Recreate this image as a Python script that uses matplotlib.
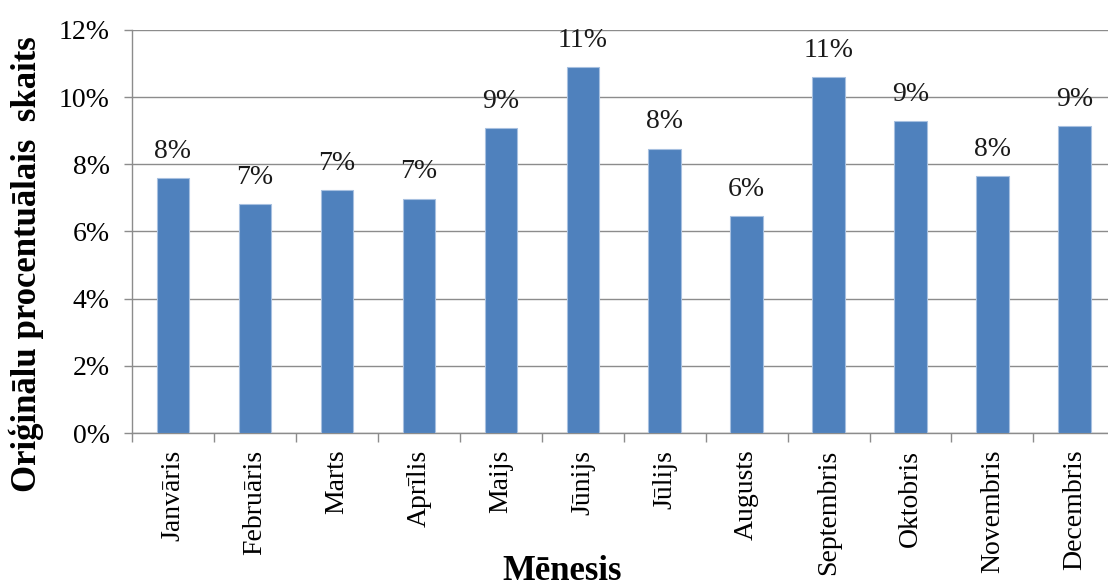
import matplotlib.pyplot as plt
import numpy as np

months = ["Janvāris", "Februāris", "Marts", "Aprīlis", "Maijs", "Jūnijs",
          "Jūlijs", "Augusts", "Septembris", "Oktobris", "Novembris", "Decembris"]
share = [7.59, 6.82, 7.24, 6.98, 9.09, 10.90, 8.47, 6.45, 10.61, 9.30, 7.65, 9.13]
yticks = [0, 2, 4, 6, 8, 10, 12]

plt.rcParams['font.family'] = ['Liberation Serif', 'DejaVu Serif']

fig = plt.figure(figsize=(11.08, 5.88), dpi=100)
ax = fig.add_axes([0.1191, 0.2636, 0.8809, 0.6854])

x = np.arange(len(months))
bars = ax.bar(x, share, width=0.395, color='#4F81BD', edgecolor='#A7C0E0',
              linewidth=0.8, zorder=3)

for xi, v in zip(x, share):
    ax.annotate(f"{v:.0f}%", (xi, v), xytext=(0, 14.5), textcoords='offset points',
                ha='center', va='baseline', fontsize=20, color='#1a1a1a')

ax.set_xlim(-0.5, 11.41)
ax.set_ylim(0, 12)
ax.set_yticks(yticks)
ax.set_yticklabels([f"{t}%" for t in yticks])
ax.grid(axis='y', color='#8c8c8c', linewidth=1.0, zorder=0)

# labels sit under the bars, tick marks go between categories
ax.set_xticks(x)
ax.set_xticklabels(months, rotation=90)
ax.set_xticks(np.arange(len(months)) - 0.5, minor=True)
ax.tick_params(axis='x', which='major', length=0, pad=12, labelsize=20)
ax.tick_params(axis='x', which='minor', length=6.5, width=1.0, color='#8c8c8c')
ax.tick_params(axis='y', length=6, width=1.0, color='#8c8c8c', pad=10, labelsize=20)

for side in ['top', 'right']:
    ax.spines[side].set_visible(False)
for side in ['left', 'bottom']:
    ax.spines[side].set_color('#8c8c8c')
    ax.spines[side].set_linewidth(1.0)

ax.set_ylabel("Oriģinālu procentuālais  skaits", fontsize=25, fontweight='bold')
ax.yaxis.set_label_coords(-0.090, 0.42)
fig.text(562.5 / 1108, 8 / 588, "Mēnesis", fontsize=25, fontweight='bold',
         ha='center', va='baseline')

fig.savefig("out.png", dpi=100)
